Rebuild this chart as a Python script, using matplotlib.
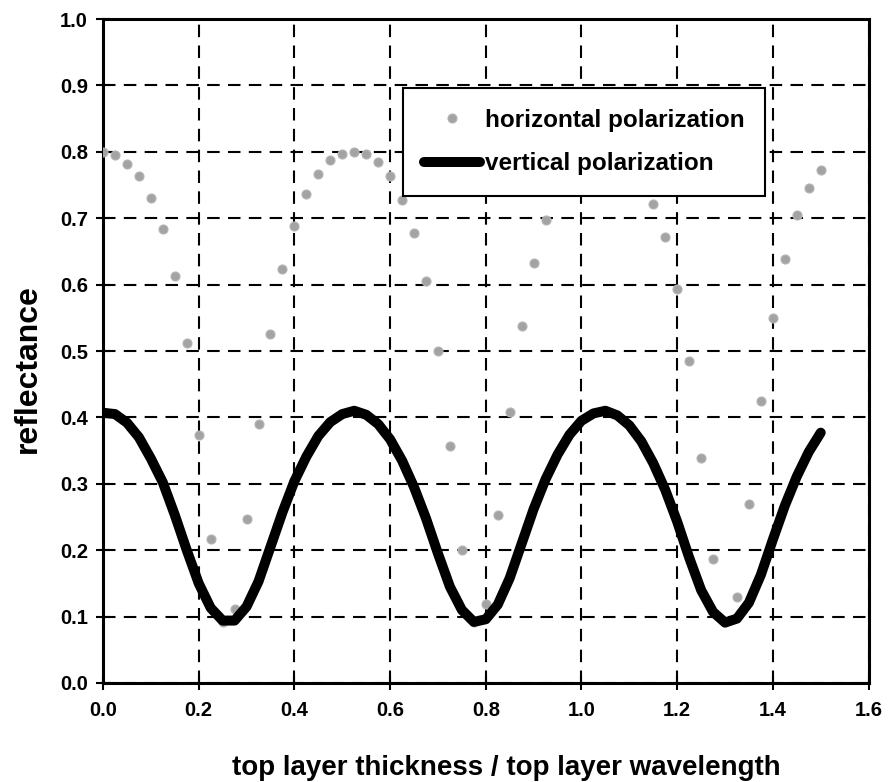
import matplotlib
matplotlib.use("Agg")
import matplotlib.pyplot as plt

plt.rcParams['font.family'] = ['Liberation Sans', 'DejaVu Sans']
plt.rcParams['font.weight'] = 'bold'

# top layer thickness / top layer wavelength (sampling of both series)
thickness = [
    0.000, 0.025, 0.050, 0.075, 0.100, 0.125, 0.150, 0.175, 0.200, 0.225,
    0.250, 0.275, 0.300, 0.325, 0.350, 0.375, 0.400, 0.425, 0.450, 0.475,
    0.500, 0.525, 0.550, 0.575, 0.600, 0.625, 0.650, 0.675, 0.700, 0.725,
    0.750, 0.775, 0.800, 0.825, 0.850, 0.875, 0.900, 0.925, 0.950, 0.975,
    1.000, 1.025, 1.050, 1.075, 1.100, 1.125, 1.150, 1.175, 1.200, 1.225,
    1.250, 1.275, 1.300, 1.325, 1.350, 1.375, 1.400, 1.425, 1.450, 1.475,
    1.500,
]

# reflectance, horizontal polarization
refl_horizontal = [
    0.800, 0.795, 0.781, 0.763, 0.731, 0.683, 0.613, 0.512, 0.374, 0.217,
    0.092, 0.111, 0.247, 0.390, 0.525, 0.624, 0.688, 0.736, 0.766, 0.787,
    0.797, 0.800, 0.797, 0.784, 0.763, 0.728, 0.678, 0.606, 0.500, 0.357,
    0.201, 0.092, 0.119, 0.253, 0.408, 0.537, 0.632, 0.698, 0.745, 0.775,
    0.792, 0.800, 0.800, 0.792, 0.774, 0.752, 0.722, 0.671, 0.594, 0.485,
    0.339, 0.186, 0.092, 0.130, 0.269, 0.424, 0.550, 0.638, 0.705, 0.745,
    0.772,
]

# reflectance, vertical polarization
refl_vertical = [
    0.407, 0.405, 0.392, 0.370, 0.338, 0.302, 0.253, 0.200, 0.150, 0.113,
    0.094, 0.094, 0.115, 0.153, 0.205, 0.257, 0.304, 0.341, 0.372, 0.393,
    0.405, 0.410, 0.404, 0.390, 0.367, 0.335, 0.295, 0.248, 0.195, 0.145,
    0.110, 0.092, 0.096, 0.118, 0.158, 0.210, 0.262, 0.307, 0.344, 0.374,
    0.395, 0.406, 0.410, 0.403, 0.388, 0.364, 0.331, 0.291, 0.243, 0.189,
    0.140, 0.107, 0.091, 0.097, 0.121, 0.163, 0.216, 0.267, 0.311, 0.348,
    0.377,
]

x_ticks = [0.0, 0.2, 0.4, 0.6, 0.8, 1.0, 1.2, 1.4, 1.6]
y_ticks = [0.0, 0.1, 0.2, 0.3, 0.4, 0.5, 0.6, 0.7, 0.8, 0.9, 1.0]

fig = plt.figure(figsize=(8.89, 7.82), dpi=100)
ax = fig.add_axes([0.1159, 0.1266, 0.8611, 0.8491])

ax.plot(thickness, refl_horizontal, linestyle='none', marker='o',
        markersize=6.5, markerfacecolor='#a3a3a3', markeredgecolor='#b5b5b5',
        markeredgewidth=0.8, zorder=3, label='horizontal polarization')
ax.plot(thickness, refl_vertical, color='black', linewidth=7.2,
        solid_capstyle='round', solid_joinstyle='round', zorder=4,
        label='vertical polarization')

ax.set_xlim(0.0, 1.6)
ax.set_ylim(0.0, 1.0)
ax.set_xticks(x_ticks)
ax.set_yticks(y_ticks)
ax.set_xticklabels([f"{v:.1f}" for v in x_ticks])
ax.set_yticklabels([f"{v:.1f}" for v in y_ticks])

ax.grid(True, color='black', linestyle=(0, (6, 4)), linewidth=1.5, zorder=1)
ax.set_axisbelow(True)

for side in ['left', 'right', 'top', 'bottom']:
    ax.spines[side].set_linewidth(2.2)
    ax.spines[side].set_color('black')

ax.tick_params(axis='both', direction='inout', length=10, width=1.5,
               labelsize=14.5, colors='black')
ax.tick_params(axis='x', pad=8)
ax.tick_params(axis='y', pad=6)

ax.set_xlabel('top layer thickness / top layer wavelength', fontsize=20,
              fontweight='bold')
ax.xaxis.set_label_coords(0.527, -0.108)
ax.set_ylabel('reflectance', fontsize=23, fontweight='bold')
ax.yaxis.set_label_coords(-0.079, 0.473)

leg = ax.legend(loc='upper left', bbox_to_anchor=(0.392, 0.896),
                borderaxespad=0.0, frameon=True, fancybox=False, framealpha=1,
                edgecolor='black', handlelength=2.3, handletextpad=0.2,
                labelspacing=0.85, borderpad=0.85, numpoints=1,
                prop={'weight': 'bold', 'size': 17.5})
leg.get_frame().set_linewidth(1.5)
leg.set_zorder(10)

fig.savefig('out.png', dpi=100, facecolor='white')
